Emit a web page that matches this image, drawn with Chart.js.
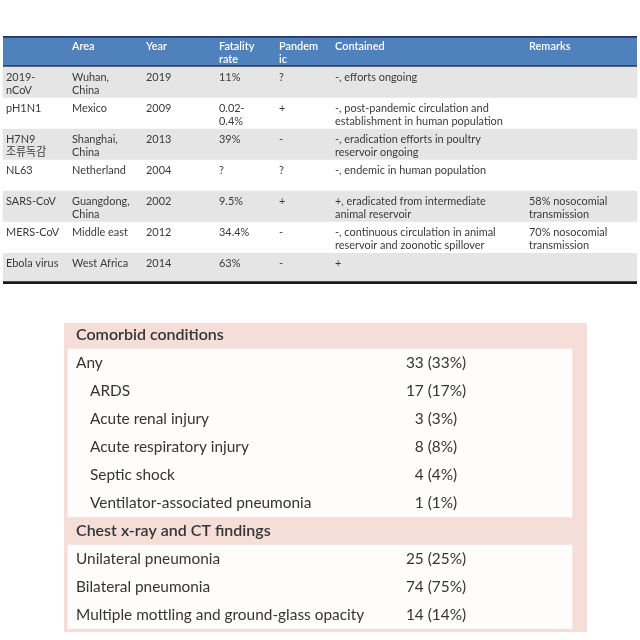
<!DOCTYPE html>
<html>
<head>
<meta charset="utf-8">
<script src="https://cdn.jsdelivr.net/npm/chart.js@4.4.1/dist/chart.umd.min.js"></script>
<style>
  html, body { margin: 0; padding: 0; background: #fff; }
  #wrap { position: relative; width: 640px; height: 640px; }
  canvas { position: absolute; left: 0; }
  #outbreaks { top: 0; }
  #findings { top: 300px; }
</style>
</head>
<body>
<div id="wrap">
  <canvas id="outbreaks" width="640" height="300"></canvas>
  <canvas id="findings" width="640" height="340"></canvas>
</div>
<script>
// outbreak table
const headers = ["", "Area", "Year", "Fatality\nrate", "Pandem\nic", "Contained", "Remarks"]
const viruses = ["2019-\nnCoV", "pH1N1", "H7N9\n조류독감", "NL63", "SARS-CoV", "MERS-CoV", "Ebola virus"]
const areas = ["Wuhan,\nChina", "Mexico", "Shanghai,\nChina", "Netherland", "Guangdong,\nChina", "Middle east", "West Africa"]
const years = ["2019", "2009", "2013", "2004", "2002", "2012", "2014"]
const fatality = ["11%", "0.02-\n0.4%", "39%", "?", "9.5%", "34.4%", "63%"]
const pandemic = ["?", "+", "-", "?", "+", "-", "-"]
const contained = [
  "-, efforts ongoing",
  "-, post-pandemic circulation and\nestablishment in human population",
  "-, eradication efforts in poultry\nreservoir ongoing",
  "-, endemic in human population",
  "+, eradicated from intermediate\nanimal reservoir",
  "-, continuous circulation in animal\nreservoir and zoonotic spillover",
  "+"
]
const remarks = ["", "", "", "", "58% nosocomial\ntransmission", "70% nosocomial\ntransmission", ""]

// clinical findings table
const findingLabels = [
  "Comorbid conditions", "Any", "ARDS", "Acute renal injury", "Acute respiratory injury",
  "Septic shock", "Ventilator-associated pneumonia", "Chest x-ray and CT findings",
  "Unilateral pneumonia", "Bilateral pneumonia", "Multiple mottling and ground-glass opacity"
]
const patientCounts = [null, 33, 17, 3, 8, 4, 1, null, 25, 74, 14]
const patientPercents = [null, 33, 17, 3, 8, 4, 1, null, 25, 75, 14]
const indentLevels = [0, 0, 1, 1, 1, 1, 1, 0, 0, 0, 0]

const columnX = [6, 72, 146, 219, 279, 335, 529]
const tableRows = [headers].concat(viruses.map((v, i) =>
  [v, areas[i], years[i], fatality[i], pandemic[i], contained[i], remarks[i]]))

const bandOf = (y) => y.getPixelForValue(1) - y.getPixelForValue(0)

// the source table uses a tall, narrow face; squeeze a 12px font a bit
const condensed = (ctx, text, x, y) => {
  ctx.fillText(text, x, y, ctx.measureText(text).width * 0.91)
}

const outbreakText = {
  id: 'outbreakText',
  afterDatasetsDraw(chart) {
    const { ctx, scales: { x, y } } = chart
    const band = bandOf(y)
    ctx.save()
    ctx.textBaseline = 'middle'
    ctx.textAlign = 'left'
    tableRows.forEach((cells, row) => {
      const top = y.getPixelForValue(row) - band / 2
      ctx.font = row === 0 ? '600 12px Lato, "Noto Sans CJK KR"' : '12px Lato, "Noto Sans CJK KR"'
      ctx.fillStyle = row === 0 ? '#ffffff' : '#3a3a3a'
      cells.forEach((text, col) => {
        text.split('\n').forEach((line, k) => {
          condensed(ctx, line, x.getPixelForValue(columnX[col]), top + 10.5 + k * 12.5)
        })
      })
    })
    ctx.restore()
  }
}

new Chart(document.getElementById('outbreaks'), {
  type: 'bar',
  data: {
    labels: tableRows.map((r, i) => 'row' + i),
    datasets: [{
      data: tableRows.map(() => [3, 637]),
      backgroundColor: tableRows.map((r, i) => i === 0 ? '#4f81bd' : (i % 2 ? '#e5e5e5' : '#ffffff')),
      borderColor: tableRows.map((r, i) => i === 0 ? '#1f3a60' : '#1a1a1a'),
      borderWidth: (c) => c.dataIndex === 0 ? { top: 2, bottom: 2, left: 0, right: 0 }
        : c.dataIndex === tableRows.length - 1 ? { top: 0, bottom: 3, left: 0, right: 0 } : 0,
      borderSkipped: false,
      barPercentage: 1,
      categoryPercentage: 1
    }]
  },
  options: {
    indexAxis: 'y',
    responsive: false,
    animation: false,
    layout: { padding: { top: 36, bottom: 16, left: 0, right: 0 } },
    scales: {
      x: { type: 'linear', min: 0, max: 640, display: false },
      y: { display: false }
    },
    plugins: { legend: { display: false }, tooltip: { enabled: false } }
  },
  plugins: [outbreakText]
})

const findingsFrame = {
  id: 'findingsFrame',
  beforeDatasetsDraw(chart) {
    const { ctx, scales: { x, y } } = chart
    const band = bandOf(y)
    const top = y.getPixelForValue(0) - band / 2 + 2
    const bottom = y.getPixelForValue(findingLabels.length - 1) + band / 2 + 3
    ctx.save()
    ctx.fillStyle = '#f5ddd8'
    ctx.fillRect(x.getPixelForValue(64), top, x.getPixelForValue(587) - x.getPixelForValue(64), bottom - top)
    ctx.restore()
  },
  afterDatasetsDraw(chart) {
    const { ctx, scales: { x, y } } = chart
    ctx.save()
    ctx.textBaseline = 'middle'
    ctx.fillStyle = '#353535'
    findingLabels.forEach((label, i) => {
      const cy = y.getPixelForValue(i)
      const isHead = patientCounts[i] === null
      ctx.font = (isHead ? '600 16px' : '15.4px') + ' Lato'
      ctx.textAlign = 'left'
      ctx.fillText(label, x.getPixelForValue(76 + indentLevels[i] * 14), cy)
      if (!isHead) {
        ctx.textAlign = 'center'
        ctx.fillText(patientCounts[i] + ' (' + patientPercents[i] + '%)', x.getPixelForValue(436), cy)
      }
    })
    ctx.restore()
  }
}

new Chart(document.getElementById('findings'), {
  type: 'bar',
  data: {
    labels: findingLabels,
    datasets: [{
      data: patientCounts.map((n) => n === null ? null : [68, 572]),
      backgroundColor: '#fffdfc',
      borderWidth: 0,
      barPercentage: 1,
      categoryPercentage: 1
    }]
  },
  options: {
    indexAxis: 'y',
    responsive: false,
    animation: false,
    layout: { padding: { top: 21, bottom: 11, left: 0, right: 0 } },
    scales: {
      x: { type: 'linear', min: 0, max: 640, display: false },
      y: { display: false }
    },
    plugins: { legend: { display: false }, tooltip: { enabled: false } }
  },
  plugins: [findingsFrame]
})
</script>
</body>
</html>
